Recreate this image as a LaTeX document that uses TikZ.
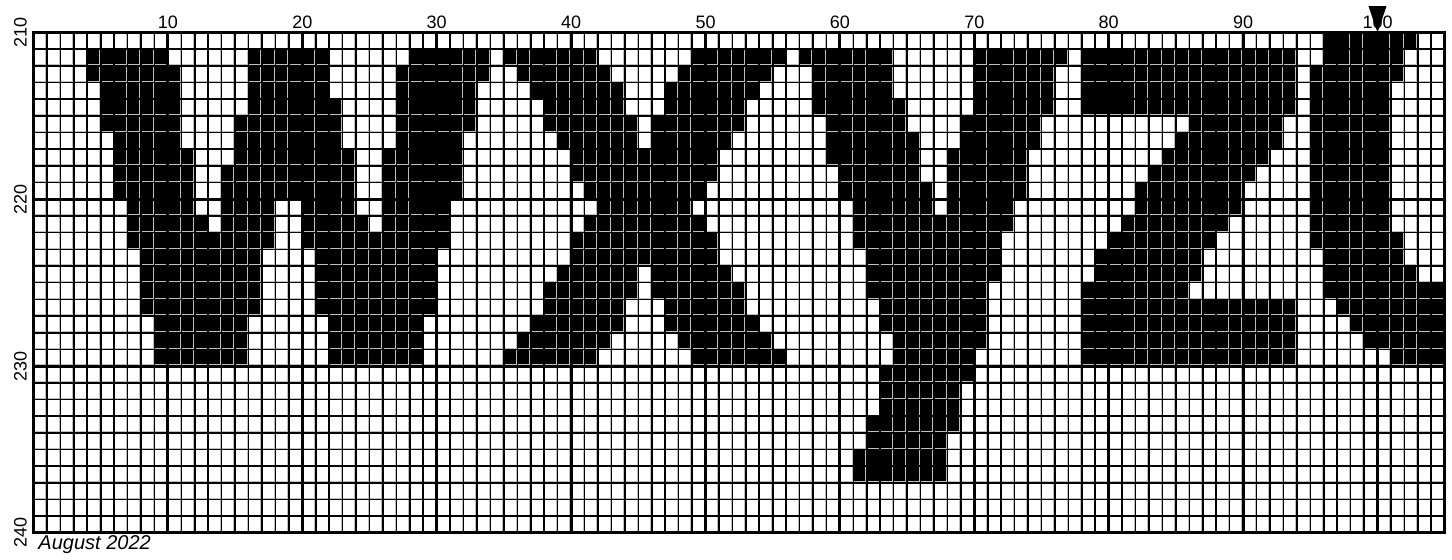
\documentclass[tikz,border=0pt]{standalone}
\usepackage{fontspec}
\setmainfont{Liberation Sans}
\usepackage{tikz}

\tikzset{
  inked/.style={fill=black},
  shadeline/.style={gray!50, line width=0.55pt},
  minorline/.style={black, line width=1.2pt},
  majorline/.style={black, line width=2.3pt},
  axislabel/.style={font=\fontsize{13.5}{16}\selectfont, inner sep=0pt},
}

\begin{document}
\begin{tikzpicture}[x=10.08pt, y=12.51pt]
  \useasboundingbox (-2.4926,1.9484) rectangle (105.543,-31.625);

  % Filled stitches, row by row (first/last column of each run)
  \foreach \r/\runs in {
      1/{97/103},
      2/{5/10,17/22,29/34,36/42,50/56,58/64,71/77,79/94,97/102},
      3/{5/11,17/22,28/34,37/43,49/55,59/64,71/76,79/94,96/102},
      4/{6/11,17/22,28/33,38/44,48/54,59/64,71/76,79/94,96/101},
      5/{6/11,17/23,28/33,39/44,48/53,59/65,71/76,79/94,96/101},
      6/{6/11,16/23,28/33,39/45,47/53,60/65,70/75,87/93,96/101},
      7/{7/11,16/23,28/32,40/45,47/52,60/66,70/75,86/93,96/101},
      8/{7/12,16/24,27/32,41/51,60/66,69/74,85/92,96/101},
      9/{7/12,15/24,27/32,41/51,61/66,69/74,84/91,96/101},
      10/{7/12,15/24,27/32,42/50,61/67,69/74,83/90,96/101},
      11/{8/12,15/18,21/24,27/31,43/49,62/67,69/73,83/90,96/101},
      12/{8/13,15/18,21/25,27/31,42/50,62/73,82/89,96/101},
      13/{8/18,21/31,41/51,62/72,81/88,96/102},
      14/{9/17,22/30,41/51,63/72,80/87,97/102},
      15/{9/17,22/30,40/45,47/52,63/72,80/87,97/103},
      16/{9/17,22/30,39/45,47/53,63/71,79/86,97/105},
      17/{9/17,22/30,39/44,48/53,64/71,79/94,98/105},
      18/{10/16,23/29,38/44,48/54,64/71,79/94,99/105},
      19/{10/16,23/29,37/43,49/55,65/71,79/94,100/105},
      20/{10/16,23/29,36/42,50/56,65/70,79/94,102/105},
      21/{64/70},
      22/{64/69},
      23/{64/69},
      24/{63/69},
      25/{63/68},
      26/{62/68},
      27/{62/68}}{
    \foreach \a/\b in \runs {
      \fill[inked] (\a-1,1-\r) rectangle (\b,-\r);
    }
  }

  % Grid
  \foreach \c in {1,...,105} {
    \draw[shadeline] ([xshift=-0.95pt]\c,0) -- ([xshift=-0.95pt]\c,-30);
  }
  \foreach \r in {1,...,30} {
    \draw[shadeline] ([yshift=0.95pt]0,-\r) -- ([yshift=0.95pt]105,-\r);
  }
  \foreach \c in {1,...,104} {
    \draw[minorline] (\c,0) -- (\c,-30);
  }
  \foreach \r in {1,...,29} {
    \draw[minorline] (0,-\r) -- (105,-\r);
  }
  \foreach \c in {10,20,...,100} {
    \draw[majorline] (\c,0) -- (\c,-30);
  }
  \draw[majorline] (0,-10) -- (105,-10);
  \draw[majorline] (0,-20) -- (105,-20);
  \draw[majorline] (0,0) rectangle (105,-30);

  % Column numbers
  \foreach \c in {10,20,...,100} {
    \node[axislabel, anchor=base] (col\c) at (\c,0.25) {\c};
  }
  % Row numbers
  \foreach \v [count=\i from 0] in {210,220,230,240} {
    \node[axislabel, rotate=90, anchor=base] (row\v) at (-0.52,-10*\i) {\v};
  }

  % Current column marker
  \fill[black] (99.33,1.58) -- (100.67,1.58) -- (100,0) -- cycle;

  \node[font=\itshape\fontsize{15}{18}\selectfont, anchor=base west, inner sep=0pt] (datestamp) at (0.35,-31.0) {August 2022};
\end{tikzpicture}
\end{document}
